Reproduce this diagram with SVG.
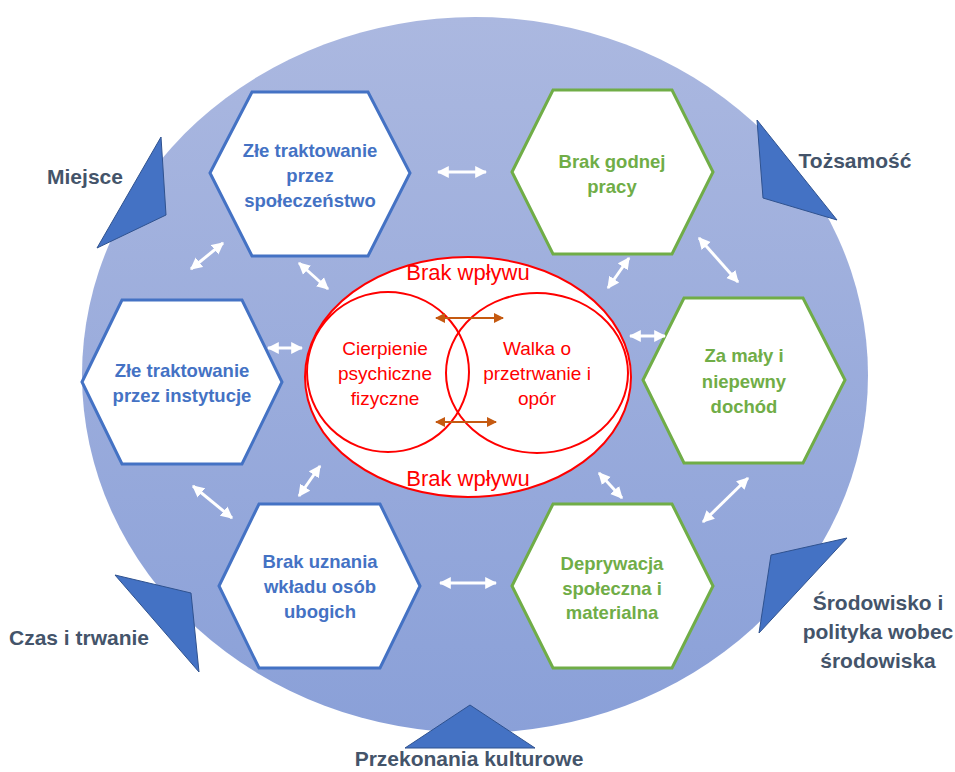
<svg xmlns="http://www.w3.org/2000/svg" width="955" height="772" viewBox="0 0 955 772">
<defs>
<linearGradient id="bg" x1="0" y1="0" x2="0" y2="1">
<stop offset="0" stop-color="#abb8e0"/>
<stop offset="1" stop-color="#8aa0d8"/>
</linearGradient>
<marker id="wh" viewBox="0 0 10 10" refX="9" refY="5" markerWidth="4" markerHeight="4.4" orient="auto-start-reverse" markerUnits="strokeWidth">
<path d="M0,0 L10,5 L0,10 z" fill="#ffffff"/>
</marker>
<marker id="br" viewBox="0 0 10 10" refX="9" refY="5" markerWidth="5" markerHeight="5" orient="auto-start-reverse" markerUnits="strokeWidth">
<path d="M0,0 L10,5 L0,10 z" fill="#c55a11"/>
</marker>
</defs>
<style>
.hb{fill:#ffffff;stroke:#4472c4;stroke-width:3}
.hg{fill:#ffffff;stroke:#70ad47;stroke-width:3}
.tb{font-family:"Liberation Sans",Arial,sans-serif;font-weight:bold;font-size:18.5px;fill:#4472c4;text-anchor:middle}
.tg{font-family:"Liberation Sans",Arial,sans-serif;font-weight:bold;font-size:18.5px;fill:#70ad47;text-anchor:middle}
.tri{fill:#4472c4;stroke:#2f528f;stroke-width:1}
.lab{font-family:"Liberation Sans",Arial,sans-serif;font-weight:bold;font-size:21px;fill:#44546a;text-anchor:middle}
.red{font-family:"Liberation Sans",Arial,sans-serif;font-size:19px;fill:#ff0000;text-anchor:middle}
.redb{font-family:"Liberation Sans",Arial,sans-serif;font-size:22px;fill:#ff0000;text-anchor:middle}
.wa{stroke:#ffffff;stroke-width:3;fill:none;marker-start:url(#wh);marker-end:url(#wh)}
.ba{stroke:#c55a11;stroke-width:2;fill:none;marker-start:url(#br);marker-end:url(#br)}
.ell{fill:#ffffff;stroke:#ff0000;stroke-width:2}
.ell2{fill:none;stroke:#ff0000;stroke-width:2}
</style>
<rect width="955" height="772" fill="#ffffff"/>
<g id="background">
<ellipse cx="475" cy="375" rx="393" ry="358" fill="url(#bg)"/>
</g>
<g id="triangles">
<polygon class="tri" points="161,137 166,215 97,248"/>
<polygon class="tri" points="757,120 763,198 837,220"/>
<polygon class="tri" points="115,575 191,593 199,672"/>
<polygon class="tri" points="847,538 771,555 759,633"/>
<polygon class="tri" points="470,705 405,748 535,748"/>
</g>
<g id="labels">
<text class="lab" x="85" y="184">Miejsce</text>
<text class="lab" x="855" y="168">Tożsamość</text>
<text class="lab" x="79" y="645">Czas i trwanie</text>
<text class="lab" x="878" y="610">Środowisko i</text>
<text class="lab" x="878" y="639">polityka wobec</text>
<text class="lab" x="878" y="668">środowiska</text>
<text class="lab" x="469" y="766">Przekonania kulturowe</text>
</g>
<g id="hex-tl">
<polygon class="hb" points="210,173 252,92 368,92 410,173 368,256 252,256"/>
<text class="tb" x="310" y="157">Złe traktowanie</text>
<text class="tb" x="310" y="182">przez</text>
<text class="tb" x="310" y="207">społeczeństwo</text>
</g>
<g id="hex-tr">
<polygon class="hg" points="512,172 553,90 672,90 713,172 672,254 553,254"/>
<text class="tg" x="612" y="168">Brak godnej</text>
<text class="tg" x="612" y="193">pracy</text>
</g>
<g id="hex-ml">
<polygon class="hb" points="82,382 122,300 242,300 282,382 242,464 122,464"/>
<text class="tb" x="182" y="377">Złe traktowanie</text>
<text class="tb" x="182" y="402">przez instytucje</text>
</g>
<g id="hex-mr">
<polygon class="hg" points="643,380 684,298 803,298 845,380 803,463 684,463"/>
<text class="tg" x="744" y="362">Za mały i</text>
<text class="tg" x="744" y="388">niepewny</text>
<text class="tg" x="744" y="413">dochód</text>
</g>
<g id="hex-bl">
<polygon class="hb" points="219,586 259,504 380,504 420,586 380,668 259,668"/>
<text class="tb" x="320" y="568">Brak uznania</text>
<text class="tb" x="320" y="593">wkładu osób</text>
<text class="tb" x="320" y="618">ubogich</text>
</g>
<g id="hex-br">
<polygon class="hg" points="512,586 553,504 672,504 713,586 672,668 553,668"/>
<text class="tg" x="612" y="570">Deprywacja</text>
<text class="tg" x="612" y="595">społeczna i</text>
<text class="tg" x="612" y="619">materialna</text>
</g>
<g id="center">
<ellipse class="ell" cx="468" cy="377" rx="163" ry="120"/>
<ellipse class="ell2" cx="388" cy="372" rx="81" ry="80"/>
<ellipse class="ell2" cx="537" cy="373" rx="91" ry="80"/>
<text class="redb" x="468" y="280">Brak wpływu</text>
<text class="redb" x="468" y="486">Brak wpływu</text>
<text class="red" x="385" y="355">Cierpienie</text>
<text class="red" x="385" y="380">psychiczne</text>
<text class="red" x="385" y="405">fizyczne</text>
<text class="red" x="537" y="355">Walka o</text>
<text class="red" x="537" y="380">przetrwanie i</text>
<text class="red" x="537" y="405">opór</text>
</g>
<g id="connectors">
<line class="ba" x1="436" y1="318" x2="503" y2="318"/>
<line class="ba" x1="436" y1="422" x2="496" y2="422"/>
<line class="wa" x1="438" y1="172" x2="486" y2="172"/>
<line class="wa" x1="191" y1="269" x2="223" y2="243"/>
<line class="wa" x1="299" y1="263" x2="328" y2="289"/>
<line class="wa" x1="268" y1="348" x2="302" y2="348"/>
<line class="wa" x1="608" y1="288" x2="629" y2="258"/>
<line class="wa" x1="699" y1="238" x2="738" y2="282"/>
<line class="wa" x1="630" y1="336" x2="665" y2="336"/>
<line class="wa" x1="193" y1="486" x2="232" y2="518"/>
<line class="wa" x1="299" y1="496" x2="320" y2="466"/>
<line class="wa" x1="599" y1="473" x2="622" y2="498"/>
<line class="wa" x1="703" y1="522" x2="748" y2="478"/>
<line class="wa" x1="440" y1="583" x2="496" y2="583"/>
</g>
</svg>
